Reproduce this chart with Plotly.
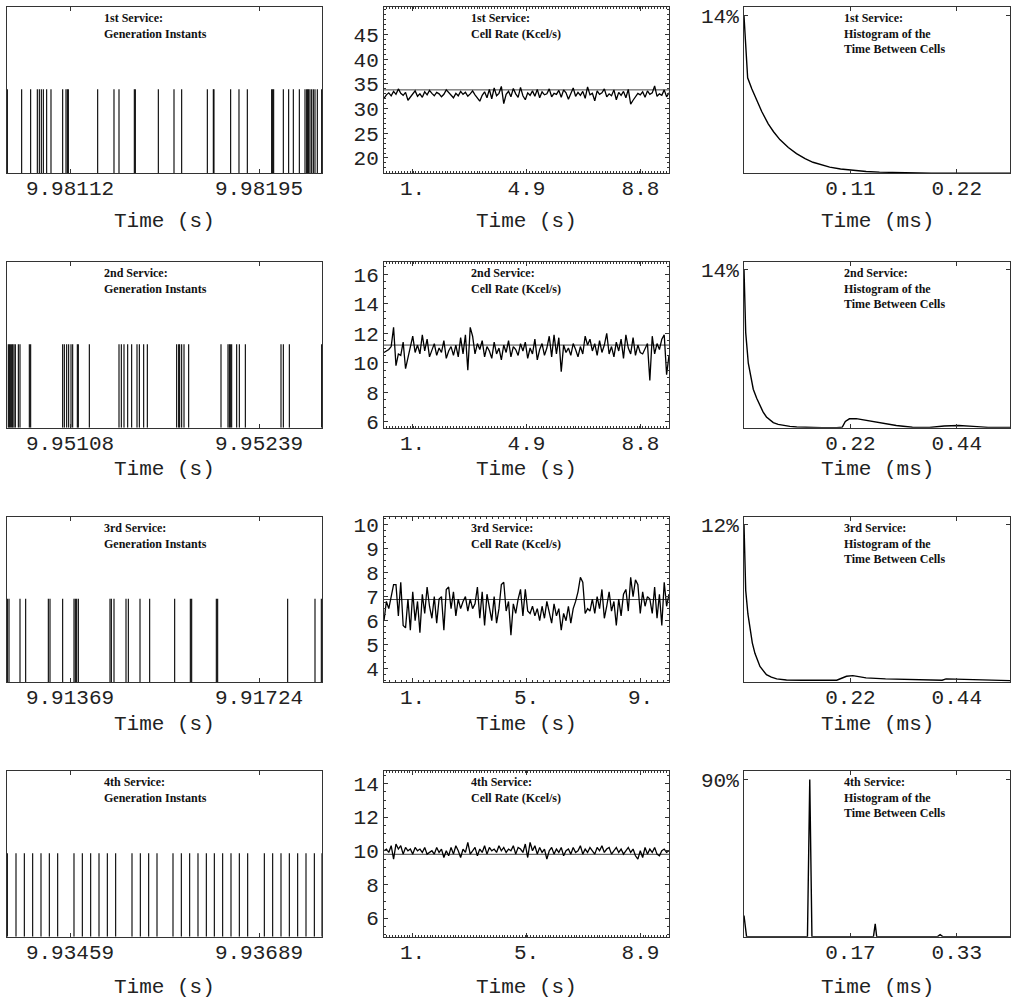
import numpy as np
import plotly.graph_objects as go

W, H = 1011, 1008

SERVICES = ["1st", "2nd", "3rd", "4th"]

# ---------------- Column 1: generation instants (s) ----------------
GEN_T1 = [9.9808448, 9.9809077, 9.9809472, 9.9809765, 9.9809853, 9.9809941, 9.9810029,
          9.9810175, 9.9810365, 9.9810878, 9.9811024, 9.9811083, 9.9811127, 9.9812415,
          9.9813132, 9.9813352, 9.9814025, 9.9814069, 9.9815079, 9.9815767, 9.9816104,
          9.9817231, 9.9817494, 9.9817523, 9.9818255, 9.9818621, 9.9818987, 9.9820056,
          9.9820100, 9.9820144, 9.9820568, 9.9820802, 9.9821007, 9.9821271, 9.9821520,
          9.9821593, 9.9821637, 9.9821681, 9.9821739, 9.9821813, 9.9821886, 9.9821959,
          9.9822061, 9.9822252]
GEN_T2 = [9.9506525, 9.9506595, 9.9506664, 9.9506757, 9.9506826, 9.9506918, 9.9507011,
          9.9507219, 9.9507334, 9.9507981, 9.9508073, 9.9510291, 9.9510407, 9.9510569,
          9.9510707, 9.9510869, 9.9510985, 9.9511308, 9.9511377, 9.9512140, 9.9514196,
          9.9514358, 9.9514543, 9.9514797, 9.9515074, 9.9515444, 9.9515606, 9.9515906,
          9.9516160, 9.9518193, 9.9518332, 9.9518401, 9.9518540, 9.9518702, 9.9519025,
          9.9521266, 9.9521751, 9.9521844, 9.9521913, 9.9522006, 9.9522352, 9.9522537,
          9.9522953, 9.9525425, 9.9525587, 9.9526003, 9.9528244]
GEN_T3 = [9.9125130, 9.9125442, 9.9127508, 9.9128573, 9.9132830, 9.9133143, 9.9135522,
          9.9137651, 9.9137902, 9.9138152, 9.9138465, 9.9144413, 9.9144664, 9.9145164,
          9.9147418, 9.9147857, 9.9150048, 9.9151864, 9.9156560, 9.9159502, 9.9159753,
          9.9164386, 9.9164636, 9.9177784, 9.9182918, 9.9184108]
GEN_T4 = [9.9338274, 9.9339328, 9.9340342, 9.9341357, 9.9342371, 9.9343385, 9.9344399,
          9.9346386, 9.9347401, 9.9348415, 9.9349429, 9.9350443, 9.9351457, 9.9353445,
          9.9354459, 9.9355473, 9.9356487, 9.9358434, 9.9359448, 9.9360462, 9.9361476,
          9.9362491, 9.9363464, 9.9364478, 9.9365492, 9.9366506, 9.9367521, 9.9369549,
          9.9370563, 9.9371577, 9.9372591, 9.9373605, 9.9374620, 9.9375634, 9.9376567]
GEN_TIMES = [GEN_T1, GEN_T2, GEN_T3, GEN_T4]
GEN_TICKS = [[9.98112, 9.98195], [9.95108, 9.95239], [9.91369, 9.91724], [9.93459, 9.93689]]
GEN_TICKTEXT = [["9.98112", "9.98195"], ["9.95108", "9.95239"],
                ["9.91369", "9.91724"], ["9.93459", "9.93689"]]

# ---------------- Column 2: cell rate (Kcel/s) ----------------
RATE1 = [32.1, 32.8, 33.2, 32.6, 33.5, 32.9, 34.0, 33.1, 32.7, 33.3, 31.7, 32.4, 32.9, 33.6, 32.5,
         33.0, 32.3, 33.4, 32.8, 33.7, 33.1, 32.6, 33.3, 33.0, 32.4, 32.9, 33.8, 33.2, 32.7, 32.2,
         33.1, 32.6, 33.5, 32.9, 33.3, 32.5, 33.0, 33.6, 32.8, 32.1, 31.5, 32.7, 33.4, 32.2, 33.9,
         32.0, 34.2, 32.6, 33.1, 34.5, 31.0, 32.9, 33.5, 32.4, 34.1, 33.0, 32.3, 34.3, 32.6, 31.8,
         33.2, 32.7, 33.6, 32.5, 33.9, 32.2, 33.4, 32.8, 33.0, 34.0, 32.4, 33.1, 32.9, 33.7, 32.3,
         33.8, 33.2, 31.9, 33.0, 34.2, 32.5, 33.3, 32.7, 33.5, 32.1, 34.4, 32.8, 33.1, 31.6, 33.6,
         32.9, 33.2, 34.0, 32.4, 33.0, 32.6, 33.8, 31.8, 33.3, 32.7, 33.5, 32.2, 33.9, 30.9, 31.7,
         32.5, 33.1, 32.8, 33.4, 32.3, 33.6, 32.9, 33.2, 34.6, 32.5, 33.0, 32.7, 33.8, 32.4, 33.2]
RATE2 = [10.7, 10.8, 10.9, 11.1, 12.4, 9.8, 10.6, 10.5, 11.4, 9.6, 10.3, 10.9, 11.8, 10.7, 11.2,
         10.6, 11.9, 10.8, 11.6, 10.4, 10.9, 11.3, 10.5, 11.0, 10.7, 11.5, 10.3, 10.8, 11.1, 10.5,
         11.2, 10.4, 11.7, 10.6, 11.9, 9.5, 12.4, 11.8, 10.6, 11.3, 10.9, 11.5, 10.4, 11.1, 10.8,
         10.3, 11.4, 10.6, 11.0, 10.2, 11.2, 10.7, 11.5, 10.4, 11.1, 10.9, 10.5, 11.3, 10.8, 11.4,
         10.3, 11.0, 10.6, 11.6, 10.2, 10.9, 11.3, 10.5, 11.0, 11.8, 10.4, 11.9, 10.6, 11.7, 9.4,
         11.2, 10.7, 11.0, 10.5, 11.3, 10.9, 10.4, 11.1, 10.6, 11.8, 11.2, 11.6, 10.8, 11.3, 10.5,
         11.5, 10.7, 11.2, 12.0, 10.6, 11.1, 10.4, 11.4, 10.8, 11.6, 10.3, 11.9, 11.0, 10.6, 11.7,
         10.5, 11.2, 10.7, 10.6, 10.9, 11.3, 8.8, 11.8, 10.6, 11.3, 10.9, 11.6, 11.9, 9.2, 10.5]
RATE3 = [6.0, 6.8, 6.5, 7.0, 7.5, 7.5, 6.2, 7.6, 5.8, 5.7, 6.9, 5.6, 7.2, 6.0, 6.8, 5.5, 7.1, 6.3,
         7.4, 6.6, 6.1, 7.0, 5.9, 6.9, 7.0, 5.6, 7.3, 7.4, 6.5, 7.2, 6.2, 6.9, 6.5, 6.8, 7.0, 6.4,
         6.9, 6.5, 6.7, 7.4, 6.1, 7.2, 5.8, 7.1, 6.5, 6.0, 7.0, 5.9, 6.5, 7.5, 7.6, 6.4, 6.8, 5.4,
         6.7, 6.3, 6.9, 7.3, 6.2, 7.3, 6.4, 6.3, 6.6, 6.2, 6.5, 6.0, 6.6, 6.1, 6.8, 6.3, 5.9, 6.7,
         6.2, 6.5, 5.6, 6.3, 6.0, 6.6, 5.9, 6.5, 6.8, 7.2, 7.8, 7.6, 6.3, 6.5, 6.4, 6.9, 6.3, 7.0,
         6.5, 7.3, 6.1, 6.6, 7.2, 6.4, 6.8, 5.8, 6.9, 6.2, 7.1, 7.3, 6.4, 7.8, 7.0, 7.7, 7.5, 6.3,
         7.2, 6.6, 7.0, 6.9, 6.3, 7.4, 6.1, 7.1, 5.8, 7.6, 6.6, 7.1]
RATE4 = [10.0, 10.1, 9.9, 10.3, 9.5, 10.4, 10.1, 10.3, 9.8, 10.2, 10.0, 10.1, 9.8, 10.2, 10.0,
         10.1, 9.9, 10.2, 9.8, 9.9, 10.0, 9.8, 10.2, 9.9, 10.1, 9.6, 10.0, 9.7, 10.2, 9.8, 10.3,
         10.0, 9.6, 10.1, 9.9, 10.5, 9.8, 10.0, 10.2, 9.7, 10.1, 9.9, 10.3, 9.8, 10.2, 10.0, 10.1,
         9.9, 10.3, 10.0, 10.2, 9.9, 10.1, 10.0, 10.3, 9.8, 10.2, 10.1, 9.9, 10.4, 9.6, 10.5, 10.0,
         10.3, 9.8, 10.2, 9.9, 10.1, 9.5, 10.0, 10.2, 9.8, 10.1, 9.9, 10.2, 9.7, 10.0, 10.1, 9.8,
         10.2, 9.9, 10.0, 10.3, 9.8, 10.1, 9.9, 10.2, 10.0, 9.8, 10.2, 10.0, 10.3, 9.9, 10.1, 10.2,
         9.8, 10.0, 10.2, 9.9, 10.1, 9.8, 10.0, 10.2, 9.9, 10.1, 9.7, 9.5, 10.0, 9.6, 10.2, 9.8,
         10.1, 9.9, 10.2, 9.8, 9.7, 10.0, 10.1, 9.9, 10.0]
RATES = [RATE1, RATE2, RATE3, RATE4]
RATE_MEAN = [33.8, 11.2, 6.88, 9.79]
RATE_DURATION = [9.8, 9.8, 10.0, 9.9]
RATE_XTICKTEXT = [["1.", "4.9", "8.8"], ["1.", "4.9", "8.8"], ["1.", "5.", "9."], ["1.", "5.", "8.9"]]
RATE_YTICKS = [[20, 25, 30, 35, 40, 45], [6, 8, 10, 12, 14, 16], [4, 5, 6, 7, 8, 9, 10],
               [6, 8, 10, 12, 14]]

# ---------------- Column 3: histogram of time between cells ----------------
HIST_X1 = [0, 0.0037, 0.008, 0.0128, 0.018, 0.0246, 0.030, 0.0364, 0.045, 0.0533, 0.062, 0.070,
           0.078, 0.087, 0.098, 0.1105, 0.124, 0.1375, 0.155, 0.171, 0.19, 0.21, 0.23, 0.25, 0.27]
HIST_Y1 = [14.0, 8.5, 7.5, 6.5, 5.5, 4.4, 3.7, 3.0, 2.3, 1.75, 1.3, 0.98, 0.75, 0.55, 0.38, 0.25,
           0.16, 0.1, 0.05, 0.02, 0.01, 0, 0, 0, 0]
HIST_X2 = [0, 0.0035, 0.0088, 0.014, 0.019, 0.026, 0.0327, 0.039, 0.046, 0.053, 0.060, 0.070,
           0.080, 0.094, 0.108, 0.13, 0.16, 0.19, 0.2014, 0.2076, 0.216, 0.23, 0.25, 0.278, 0.312,
           0.345, 0.38, 0.41, 0.44, 0.47, 0.50, 0.545]
HIST_Y2 = [14.0, 8.4, 5.7, 4.4, 3.4, 2.6, 1.95, 1.4, 0.95, 0.68, 0.45, 0.3, 0.2, 0.12, 0.06, 0.02,
           0.01, 0.0, 0.05, 0.55, 0.79, 0.8, 0.65, 0.44, 0.2, 0.04, 0.02, 0.15, 0.2, 0.12, 0.03, 0.02]
HIST_X3 = [0, 0.0035, 0.008, 0.0122, 0.017, 0.0224, 0.0327, 0.046, 0.056, 0.067, 0.087, 0.12,
           0.16, 0.19, 0.200, 0.21, 0.223, 0.25, 0.29, 0.345, 0.38, 0.406, 0.414, 0.448, 0.49, 0.545]
HIST_Y3 = [12.0, 7.0, 5.2, 4.0, 3.0, 2.2, 1.2, 0.58, 0.38, 0.25, 0.17, 0.15, 0.14, 0.15, 0.3,
           0.45, 0.5, 0.33, 0.25, 0.2, 0.17, 0.15, 0.25, 0.22, 0.17, 0.12]
HIST_X4 = [0, 0.004, 0.099, 0.1026, 0.106, 0.202, 0.2047, 0.207, 0.302, 0.306, 0.31, 0.415]
HIST_Y4 = [12.1, 0, 0, 90, 0, 0, 7.4, 0, 0, 1.1, 0, 0]
HIST_X = [HIST_X1, HIST_X2, HIST_X3, HIST_X4]
HIST_Y = [HIST_Y1, HIST_Y2, HIST_Y3, HIST_Y4]
HIST_XMAX = [0.27, 0.545, 0.545, 0.415]
HIST_XTICKTEXT = [["0.11", "0.22"], ["0.22", "0.44"], ["0.22", "0.44"], ["0.17", "0.33"]]
HIST_YTICK = [14, 14, 12, 90]

# ---------------- layout geometry (pixels) ----------------
COL_PX = [(7, 322), (384, 669), (744, 1010)]
ROW_PX = [(4, 172), (262, 429), (519, 686), (776, 943)]
TITLE_OFFSET = [49, 42, 43, 51]
LABEL_X = [101.7, 469.3, 842.3]
GEN_YMAX = 1.98
RATE_YRANGE = [[16.9, 50.6], [5.6, 16.8], [3.44, 10.32], [4.9, 14.72]]
RATE_YMINOR = [1, 0.5, 0.25, 0.5]
HIST_YMAX = [14.8, 14.6, 12.6, 94.7]


def px_x(p):
    return p / W


def px_y(p):
    return 1 - p / H


fig = go.Figure()
TICKFONT = dict(family="Liberation Mono, Courier New, monospace", size=21, color="#222")
LBLFONT = dict(family="Liberation Serif, Times New Roman, serif", size=12, color="#111")
AX_COMMON = dict(showline=True, linecolor="#333", linewidth=1, mirror="allticks",
                 ticks="inside", ticklen=4, tickcolor="#333", showgrid=False,
                 zeroline=False, tickfont=TICKFONT, fixedrange=True)

annotations = []
idx = 0
for r in range(4):
    top, bot = ROW_PX[r]
    ydom = [px_y(bot), px_y(top)]
    for c in range(3):
        idx += 1
        xa = "x" if idx == 1 else f"x{idx}"
        ya = "y" if idx == 1 else f"y{idx}"
        xkey = "xaxis" if idx == 1 else f"xaxis{idx}"
        ykey = "yaxis" if idx == 1 else f"yaxis{idx}"
        l, rr = COL_PX[c]
        xdom = [px_x(l), px_x(rr)]
        if c == 0:
            times = GEN_TIMES[r]
            xs, ys = [], []
            for t in times:
                xs += [t, t, None]
                ys += [0, 1, None]
            t0, t1 = GEN_TICKS[r]
            span = (t1 - t0) / 0.6
            fig.add_trace(go.Scatter(x=xs, y=ys, mode="lines", xaxis=xa, yaxis=ya,
                                     line=dict(color="black", width=1.1),
                                     showlegend=False, hoverinfo="skip"))
            fig.layout[xkey] = dict(AX_COMMON, domain=xdom, anchor=ya,
                                    range=[t0 - 0.2 * span, t1 + 0.2 * span],
                                    tickvals=GEN_TICKS[r], ticktext=GEN_TICKTEXT[r],
                                    ticklabelstandoff=-4)
            fig.layout[ykey] = dict(AX_COMMON, domain=ydom, anchor=xa, range=[0, GEN_YMAX],
                                    showticklabels=False, ticks="")
            lines = [f"{SERVICES[r]} Service:", "Generation Instants"]
        elif c == 1:
            vals = RATES[r]
            dur = RATE_DURATION[r]
            tx = np.linspace(0, dur, len(vals))
            fig.add_trace(go.Scatter(x=[0, dur], y=[RATE_MEAN[r], RATE_MEAN[r]], mode="lines",
                                     xaxis=xa, yaxis=ya, line=dict(color="#444", width=1),
                                     showlegend=False, hoverinfo="skip"))
            fig.add_trace(go.Scatter(x=tx, y=vals, mode="lines", xaxis=xa, yaxis=ya,
                                     line=dict(color="black", width=1.3),
                                     showlegend=False, hoverinfo="skip"))
            fig.layout[xkey] = dict(AX_COMMON, domain=xdom, anchor=ya, range=[0, dur],
                                    tickvals=[0.1 * dur, 0.5 * dur, 0.9 * dur],
                                    ticktext=RATE_XTICKTEXT[r], ticklabelstandoff=-4,
                                    minor=dict(ticks="inside", ticklen=2, nticks=20,
                                               tickcolor="#333"))
            fig.layout[ykey] = dict(AX_COMMON, domain=ydom, anchor=xa, range=RATE_YRANGE[r],
                                    tickvals=RATE_YTICKS[r],
                                    ticktext=[str(v) for v in RATE_YTICKS[r]],
                                    minor=dict(ticks="inside", ticklen=2,
                                               dtick=RATE_YMINOR[r], tickcolor="#333"))
            lines = [f"{SERVICES[r]} Service:", "Cell Rate (Kcel/s)"]
        else:
            R = HIST_XMAX[r]
            fig.add_trace(go.Scatter(x=HIST_X[r], y=HIST_Y[r], mode="lines", xaxis=xa,
                                     yaxis=ya, line=dict(color="black", width=1.4),
                                     showlegend=False, hoverinfo="skip"))
            fig.layout[xkey] = dict(AX_COMMON, domain=xdom, anchor=ya, range=[0, R],
                                    tickvals=[0.4 * R, 0.8 * R], ticktext=HIST_XTICKTEXT[r],
                                    ticklabelstandoff=-4)
            fig.layout[ykey] = dict(AX_COMMON, domain=ydom, anchor=xa,
                                    range=[0, HIST_YMAX[r]], tickvals=[HIST_YTICK[r]],
                                    ticktext=[f"{HIST_YTICK[r]}%"])
            lines = [f"{SERVICES[r]} Service:", "Histogram of the", "Time Between Cells"]
        annotations.append(dict(x=px_x(LABEL_X[c]), y=px_y(top + 2),
                                xref="paper", yref="paper", xanchor="left",
                                yanchor="top", align="left", showarrow=False,
                                text="<b>" + "<br>".join(lines) + "</b>", font=LBLFONT))
        title = "Time (ms)" if c == 2 else "Time (s)"
        annotations.append(dict(x=px_x((l + rr) / 2), y=px_y(bot + TITLE_OFFSET[r]),
                                xref="paper", yref="paper", xanchor="center",
                                yanchor="middle", showarrow=False, text=title,
                                font=TICKFONT))

fig.update_layout(width=W, height=H, margin=dict(l=0, r=0, t=0, b=0),
                  paper_bgcolor="white", plot_bgcolor="white",
                  annotations=annotations, showlegend=False)

fig.write_html("out.html", config={"displayModeBar": False},
               post_script="document.body.style.margin='0';document.body.style.padding='0';")
